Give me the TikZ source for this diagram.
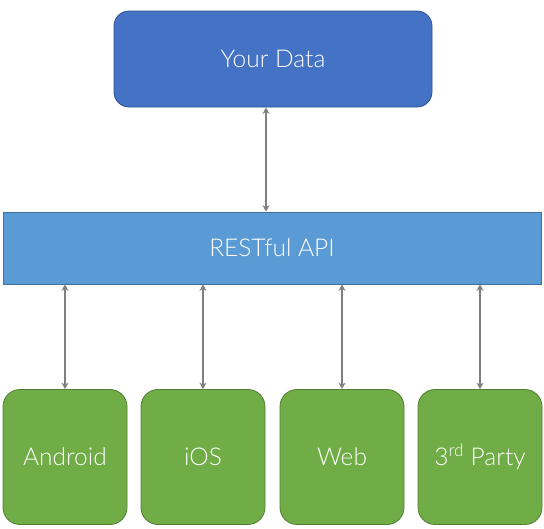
\documentclass[tikz,border=0pt]{standalone}
\usepackage{fontspec}
\setmainfont{Lato}[UprightFont=* Light]
\usetikzlibrary{arrows.meta}
\definecolor{dataBlue}{HTML}{4472C4}
\definecolor{dataEdge}{HTML}{2F528F}
\definecolor{apiBlue}{HTML}{5B9BD5}
\definecolor{apiEdge}{HTML}{41719C}
\definecolor{appGreen}{HTML}{70AD47}
\definecolor{appEdge}{HTML}{507E32}
\definecolor{arrowGray}{HTML}{7F7F7F}
\begin{document}
\begin{tikzpicture}[x=1pt,y=-1pt,
  box/.style={draw, line width=0.8pt, inner sep=0pt, text=white},
  databox/.style={box, fill=dataBlue, draw=dataEdge, rounded corners=15pt, minimum width=318pt, minimum height=96pt, font=\fontsize{24.5}{29}\selectfont},
  apibox/.style={box, fill=apiBlue, draw=apiEdge, minimum width=538pt, minimum height=72pt, font=\fontsize{24.5}{29}\selectfont},
  appbox/.style={box, fill=appGreen, draw=appEdge, rounded corners=17pt, minimum width=124pt, minimum height=135pt, font=\fontsize{24.5}{29}\selectfont},
  link/.style={arrowGray, line width=1.7pt, {Stealth[length=6.5pt,width=7pt]}-{Stealth[length=6.5pt,width=7pt]}}
]
\useasboundingbox (0,0) rectangle (544,528);
\node[databox] (data) at (273,59) {Your Data};
\node[apibox] (api) at (272,248) {RESTful API};
\node[appbox] (android) at (65,457) {Android};
\node[appbox] (ios) at (203,457) {iOS};
\node[appbox] (web) at (342,457) {Web};
\node[appbox] (third) at (480,457) {3\textsuperscript{rd} Party};
\draw[link] (data.south -| 266,0) -- (api.north -| 266,0);
\draw[link] (api.south -| android.north) -- (android.north);
\draw[link] (api.south -| ios.north) -- (ios.north);
\draw[link] (api.south -| web.north) -- (web.north);
\draw[link] (api.south -| third.north) -- (third.north);
\end{tikzpicture}
\end{document}
